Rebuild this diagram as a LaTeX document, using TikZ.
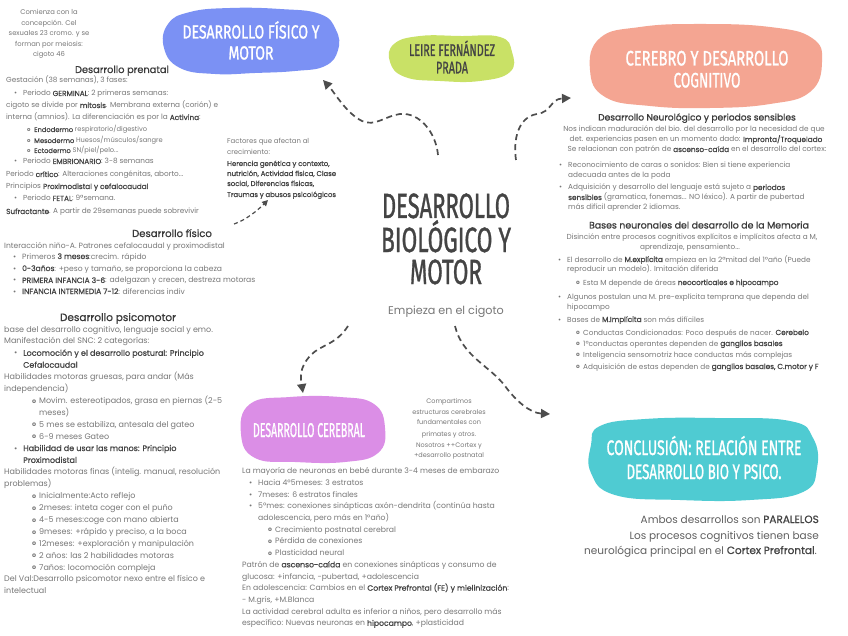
\documentclass[tikz,border=0pt]{standalone}
\usepackage{fontspec}
\usepackage{graphicx}
\setmainfont{Poppins}
\newfontfamily\tf[FakeBold=1.3]{Fira Sans}
\newfontfamily\semi[FakeBold=0.8]{Poppins}
\usetikzlibrary{arrows.meta}
\definecolor{txt}{HTML}{777777}
\definecolor{dk}{HTML}{444444}
\definecolor{hd}{HTML}{3A3A3A}
\definecolor{bluebl}{HTML}{7B91F4}
\definecolor{greenbl}{HTML}{C9E166}
\definecolor{salmbl}{HTML}{F4A592}
\definecolor{purpbl}{HTML}{DB8EE6}
\definecolor{tealbl}{HTML}{4FCBD2}
\definecolor{arr}{HTML}{4D4D4D}
\newcommand\B[1]{{\semi\color{dk}#1}}
\newcommand\bul{\makebox[9pt][l]{\textbullet}}
\newcommand\sbul{\makebox[7pt][l]{\raisebox{0.3pt}{\scalebox{0.8}{\bfseries o}}}}
\newcounter{lnc}
\newcommand\Ln[4][]{\stepcounter{lnc}\node[tx,anchor=base west,#1] (l\arabic{lnc}) at (#2,#3) {#4};}
\newcommand\Lc[4][]{\stepcounter{lnc}\node[tx,anchor=base,#1] (l\arabic{lnc}) at (#2,#3) {#4};}
\newcommand\Lr[4][]{\stepcounter{lnc}\node[tx,anchor=base east,#1] (l\arabic{lnc}) at (#2,#3) {#4};}
\newcommand\Tl[6][white]{\stepcounter{lnc}\node[inner sep=0,anchor=base,text=#1,font=\tf\fontsize{#4}{#4}\selectfont] (t\arabic{lnc}) at (#2,#3) {\resizebox{#5pt}{\height}{#6}};}
\begin{document}
\begin{tikzpicture}[x=1pt,y=-1pt,
  tx/.style={inner sep=0,text=txt},
  nta/.style={font=\fontsize{6.8}{6.8}\selectfont},
  ntb/.style={font=\fontsize{6.9}{6.9}\selectfont},
  ntc/.style={font=\fontsize{6.5}{6.5}\selectfont},
  pre/.style={font=\fontsize{7.3}{7.3}\selectfont},
  pres/.style={font=\fontsize{6.7}{6.7}\selectfont},
  fis/.style={font=\fontsize{7.6}{7.6}\selectfont},
  psi/.style={font=\fontsize{8}{8}\selectfont},
  rt/.style={font=\fontsize{7.3}{7.3}\selectfont},
  bm/.style={font=\fontsize{7.7}{7.7}\selectfont},
  concl/.style={font=\fontsize{10.5}{10.5}\selectfont,text=dk!85},
  hdg/.style={text=hd,font=\semi\fontsize{#1}{#1}\selectfont},
  conn/.style={draw=arr,line width=1.7pt,dash pattern=on 6pt off 4pt,-{Triangle[length=9pt,width=9pt]}},
  blob/.style={smooth cycle,tension=0.75}]
\useasboundingbox (0,0) rectangle (848,636);
\fill[white] (0,0) rectangle (848,636);
% blobs
\fill[bluebl] plot[blob] coordinates {(168,24) (190,12) (230,8) (280,9) (320,14) (336,30) (338,50) (325,66) (295,71) (255,73) (215,74) (180,68) (164,48)};
\fill[greenbl] plot[blob] coordinates {(394,44) (420,36) (460,36) (500,37) (512,52) (510,72) (480,81) (440,81) (405,77) (390,62)};
\fill[salmbl] plot[blob] coordinates {(600,38) (640,27) (700,24) (770,27) (812,38) (822,62) (810,92) (770,104) (710,108) (650,106) (605,97) (590,70)};
\fill[purpbl] plot[blob] coordinates {(250,404) (290,397) (340,397) (374,404) (385,428) (378,453) (345,462) (295,462) (255,458) (241,434)};
\fill[tealbl] plot[blob] coordinates {(600,426) (645,419) (715,418) (790,421) (813,438) (817,468) (803,492) (750,500) (680,500) (615,495) (591,473) (591,445)};
% titles
\Tl{251}{38.5}{19}{137}{DESARROLLO FÍSICO Y}
\Tl{251}{59.5}{19}{45}{MOTOR}
\Tl[dk]{452}{56}{17}{86}{LEIRE FERNÁNDEZ}
\Tl[dk]{452}{73.5}{17}{32}{PRADA}
\Tl{707}{65.5}{21}{163}{CEREBRO Y DESARROLLO}
\Tl{707}{87.5}{21}{67}{COGNITIVO}
\Tl{309}{437}{20}{112}{DESARROLLO CEREBRAL}
\Tl{704}{455}{21}{195}{CONCLUSIÓN: RELACIÓN ENTRE}
\Tl{704}{479}{21}{155}{DESARROLLO BIO Y PSICO.}
\Tl[dk]{446}{218}{35}{128}{DESARROLLO}
\Tl[dk]{446}{252}{35}{130}{BIOLÓGICO Y}
\Tl[dk]{446}{284}{35}{72}{MOTOR}
\Lc[font=\fontsize{11.2}{11.2}\selectfont]{446}{314}{Empieza en el cigoto}
% top-left note
\Lc[nta]{49}{15}{Comienza con la}
\Lc[nta]{49}{26}{concepción. Cel}
\Lc[nta]{49}{36}{sexuales 23 cromo. y se}
\Lc[nta]{49}{47}{forman por meiosis:}
\Lc[nta]{49}{57}{cigoto 46}
% prenatal
\Lc[hdg=9.8]{122}{73}{Desarrollo prenatal}
\Ln[pre]{6}{83}{Gestación (38 semanas), 3 fases:}
\Ln[pre]{14}{96}{\bul Periodo \B{GERMINAL}: 2 primeras semanas:}
\Ln[pre]{6}{108}{cigoto se divide por \B{mitosis}. Membrana externa (corión) e}
\Ln[pre]{6}{120}{interna (amnios). La diferenciación es por la \B{Activina}:}
\Ln[pres]{27}{132}{\sbul\B{Endodermo} respiratorio/digestivo}
\Ln[pres]{27}{143}{\sbul\B{Mesodermo} Huesos/músculos/sangre}
\Ln[pres]{27}{153}{\sbul\B{Ectodermo} SN/piel/pelo...}
\Ln[pre]{14}{164}{\bul Periodo \B{EMBRIONARIO}: 3-8 semanas}
\Ln[pre]{6}{177}{Periodo \B{crítico}: Alteraciones congénitas, aborto...}
\Ln[pre]{6}{189}{Principios \B{Proximodistal y cefalocaudal}}
\Ln[pre]{14}{201}{\bul Periodo \B{FETAL}: 9ªsemana.}
\Ln[pre]{6}{214}{\B{Sufractante}. A partir de 29semanas puede sobrevivir}
% factors note
\Ln[ntb]{227}{144}{Factores que afectan al}
\Ln[ntb]{227}{155}{crecimiento:}
\Ln[ntb]{227}{166}{\B{Herencia genética y contexto,}}
\Ln[ntb]{227}{176}{\B{nutrición, Actividad física, Clase}}
\Ln[ntb]{227}{186}{\B{social, Diferencias físicas,}}
\Ln[ntb]{227}{197}{\B{Traumas y abusos psicológicos}}
% fisico
\Lc[hdg=10.1]{172}{237}{Desarrollo físico}
\Ln[fis]{4}{248}{Interacción niño-A. Patrones cefalocaudal y proximodistal}
\Ln[fis]{13}{259}{\bul Primeros \B{3 meses}:crecim. rápido}
\Ln[fis]{13}{271}{\bul \B{0-3años}: +peso y tamaño, se proporciona la cabeza}
\Ln[fis]{13}{283}{\bul \B{PRIMERA INFANCIA 3-6}: adelgazan y crecen, destreza motoras}
\Ln[fis]{13}{294}{\bul \B{INFANCIA INTERMEDIA 7-12}: diferencias indiv}
% psicomotor
\Lc[hdg=10.5]{118}{321}{Desarrollo psicomotor}
\Ln[psi]{4}{332}{base del desarrollo cognitivo, lenguaje social y emo.}
\Ln[psi]{4}{343.9}{Manifestación del SNC: 2 categorías:}
\Ln[psi]{14}{355.8}{\bul\B{Locomoción y el desarrollo postural: Principio}}
\Ln[psi]{23}{367.7}{\B{Cefalocaudal}}
\Ln[psi]{4}{379.6}{Habilidades motoras gruesas, para andar (Más}
\Ln[psi]{4}{391.5}{independencia)}
\Ln[psi]{32}{403.4}{\sbul Movim. estereotipados, grasa en piernas (2-5}
\Ln[psi]{39}{415.3}{meses)}
\Ln[psi]{32}{427.2}{\sbul 5 mes se estabiliza, antesala del gateo}
\Ln[psi]{32}{439.1}{\sbul 6-9 meses Gateo}
\Ln[psi]{14}{451}{\bul\B{Habilidad de usar las manos: Principio}}
\Ln[psi]{23}{462.9}{\B{Proximodistal}}
\Ln[psi]{4}{474.8}{Habilidades motoras finas (intelig. manual, resolución}
\Ln[psi]{4}{486.7}{problemas)}
\Ln[psi]{32}{498.6}{\sbul Inicialmente:Acto reflejo}
\Ln[psi]{32}{510.5}{\sbul 2meses: inteta coger con el puño}
\Ln[psi]{32}{522.4}{\sbul 4-5 meses:coge con mano abierta}
\Ln[psi]{32}{534.3}{\sbul 9meses: +rápido y preciso, a la boca}
\Ln[psi]{32}{546.2}{\sbul 12meses: +exploración y manipulación}
\Ln[psi]{32}{558.1}{\sbul 2 años: las 2 habilidades motoras}
\Ln[psi]{32}{570}{\sbul 7años: locomoción compleja}
\Ln[psi]{4}{581.9}{Del Val:Desarrollo psicomotor nexo entre el físico e}
\Ln[psi]{4}{593.8}{intelectual}
% right column
\Lc[hdg=9.1]{697}{120.5}{Desarrollo Neurológico y periodos sensibles}
\Lc[rt]{694}{132}{Nos indican maduración del bio. del desarrollo por la necesidad de que}
\Lc[rt]{696}{142}{det. experiencias pasen en un momento dado: \B{Impronta/Troquelado}}
\Lc[rt]{697}{152}{Se relacionan con patrón de \B{ascenso-caída} en el desarrollo del cortex:}
\Ln[rt]{559}{168}{\bul Reconocimiento de caras o sonidos: Bien si tiene experiencia}
\Ln[rt]{568}{178}{adecuada antes de la poda}
\Ln[rt]{559}{190}{\bul Adquisición y desarrollo del lenguaje está sujeto a \B{periodos}}
\Ln[rt]{568}{200}{\B{sensibles} (gramatica, fonemas... NO léxico). A partir de pubertad}
\Ln[rt]{568}{210}{más difícil aprender 2 idiomas.}
\Lc[hdg=9.4]{699}{228.5}{Bases neuronales del desarrollo de la Memoria}
\Lc[rt]{692}{240}{Disinción entre procesos cognitivos explícitos e implícitos afecta a M,}
\Lc[rt]{690}{250}{aprendizaje, pensamiento...}
\Ln[rt]{558}{262}{\bul El desarrollo de \B{M.explícita} empieza en la 2ªmitad del 1ºaño (Puede}
\Ln[rt]{567}{272}{reproducir un modelo). Imitación diferida}
\Ln[rt]{576}{285}{\sbul Esta M depende de áreas \B{neocorticales e hipocampo}}
\Ln[rt]{558}{299}{\bul Algunos postulan una M. pre-explícita temprana que dependa del}
\Ln[rt]{567}{309}{hipocampo}
\Ln[rt]{558}{322}{\bul Bases de \B{M.Implícita} son más difíciles}
\Ln[rt]{576}{335}{\sbul Conductas Condicionadas: Poco después de nacer. \B{Cerebelo}}
\Ln[rt]{576}{346}{\sbul 1ºconductas operantes dependen de \B{ganglios basales}}
\Ln[rt]{576}{357}{\sbul Inteligencia sensomotriz hace conductas más complejas}
\Ln[rt]{576}{369}{\sbul Adquisición de estas dependen de \B{ganglios basales, C.motor y F}}
% compartimos note
\Lc[ntc]{449}{403}{Compartimos}
\Lc[ntc]{449}{414}{estructuras cerebrales}
\Lc[ntc]{449}{424}{fundamentales con}
\Lc[ntc]{449}{436}{primates y otros.}
\Lc[ntc]{449}{447}{Nosotros ++Cortex y}
\Lc[ntc]{449}{457}{+desarrollo postnatal}
% bottom middle
\Ln[bm]{242}{473.7}{La mayoría de neuronas en bebé durante 3-4 meses de embarazo}
\Ln[bm]{249}{485.4}{\bul Hacia 4º5meses: 3 estratos}
\Ln[bm]{249}{497.1}{\bul 7meses: 6 estratos finales}
\Ln[bm]{249}{508.8}{\bul 5ºmes: conexiones sinápticas axón-dendrita (continúa hasta}
\Ln[bm]{258}{520.5}{adolescencia, pero más en 1ºaño)}
\Ln[bm]{268}{532.2}{\sbul Crecimiento postnatal cerebral}
\Ln[bm]{268}{543.9}{\sbul Pérdida de conexiones}
\Ln[bm]{268}{555.6}{\sbul Plasticidad neural}
\Ln[bm]{242}{567.3}{Patrón de \B{ascenso-caída} en conexiones sinápticas y consumo de}
\Ln[bm]{242}{579}{glucosa: +infancia, -pubertad, +adolescencia}
\Ln[bm]{242}{590.7}{En adolescencia: Cambios en el \B{Cortex Prefrontal (FE) y mielinización}:}
\Ln[bm]{242}{602.4}{- M.gris, +M.Blanca}
\Ln[bm]{242}{614.1}{La actividad cerebral adulta es inferior a niños, pero desarrollo más}
\Ln[bm]{242}{625.8}{específico: Nuevas neuronas en \B{hipocampo}, +plasticidad}
% conclusion
\Lr[concl]{819}{523}{Ambos desarrollos son \B{PARALELOS}}
\Lr[concl]{819}{539}{Los procesos cognitivos tienen base}
\Lr[concl]{817}{554}{neurológica principal en el \B{Cortex Prefrontal}.}
% connectors
\coordinate (a1s) at (438,155);
\coordinate (a1e) at (323,80);
\coordinate (a2s) at (516,160);
\coordinate (a2e) at (571,98);
\coordinate (a3s) at (348,326);
\coordinate (a3e) at (303,393);
\coordinate (a4s) at (455,326);
\coordinate (a4e) at (550,414);
\coordinate (a5s) at (234,224);
\coordinate (a5e) at (268,200);
\draw[conn] (a1s) .. controls (436,133) and (420,112) .. (400,114) .. controls (385,116) and (375,127) .. (362,121) .. controls (346,113) and (335,93) .. (a1e);
\draw[conn] (a2s) .. controls (513,140) and (518,117) .. (537,114) .. controls (552,112) and (550,99) .. (a2e);
\draw[conn] (a3s) .. controls (336,345) and (320,345) .. (311,355) .. controls (298,368) and (301,380) .. (a3e);
\draw[conn] (a4s) .. controls (462,356) and (490,366) .. (505,386) .. controls (516,401) and (530,413) .. (a4e);
\draw[conn,line width=1.2pt,dash pattern=on 4pt off 3pt,-{Triangle[length=6pt,width=6pt]}] (a5s) .. controls (246,220) and (258,210) .. (a5e);
\end{tikzpicture}
\end{document}
